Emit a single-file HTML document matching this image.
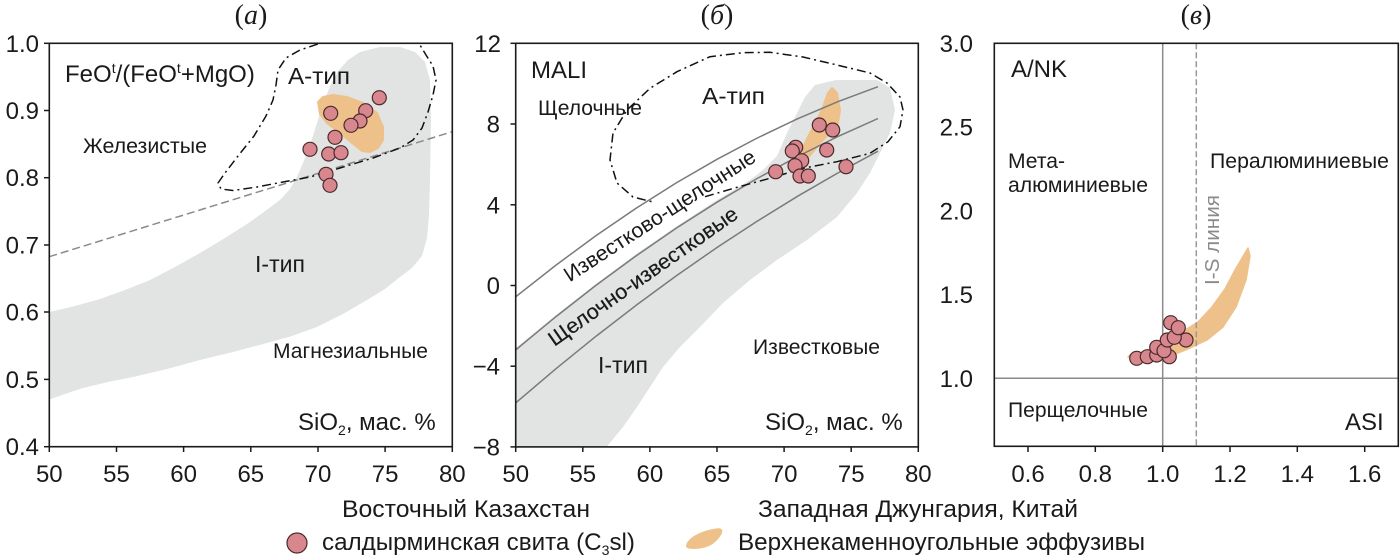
<!DOCTYPE html>
<html><head><meta charset="utf-8"><style>
html,body{margin:0;padding:0;background:#fff;}
svg{display:block;}
text{font-family:"Liberation Sans",Arial,sans-serif;fill:#1a1a1a;}
.t{font-family:"Liberation Serif",serif;font-size:28px;}
.tk{font-size:24px;}
</style></head><body>
<svg width="1400" height="558" viewBox="0 0 1400 558" xmlns="http://www.w3.org/2000/svg">
<defs>
<clipPath id="ca"><rect x="49.3" y="43.3" width="403" height="403.4"/></clipPath>
<clipPath id="cb"><rect x="515.7" y="43.3" width="402.6" height="403.6"/></clipPath>
<clipPath id="cc"><rect x="994.3" y="43.3" width="404" height="403"/></clipPath>
</defs>
<rect width="1400" height="558" fill="#fff"/>

<!-- titles -->
<text class="t" x="251" y="24" text-anchor="middle">(<tspan font-style="italic">а</tspan>)</text>
<text class="t" x="717" y="24" text-anchor="middle">(<tspan font-style="italic">б</tspan>)</text>
<text class="t" x="1196" y="24" text-anchor="middle">(<tspan font-style="italic">в</tspan>)</text>

<!-- ================= PANEL A ================= -->
<g clip-path="url(#ca)">
<polygon fill="#e2e3e3" points="45,313 75,306 100,299 125,290 150,280 175,267 200,253 225,238 250,222 268,209 281,199 290,189 297,177 303,163 308,150 313,136 317,123 321,110 326,96 332,82 339,70 348,60 360,52 380,47 400,47 415,52 425,62 430,80 431,120 430,180 429,215 427,238 422,256 412,268 400,277 385,289 367,300 343,314 317,327 292,336 267,343 233,352 200,360 167,369 133,377 108,382 83,388 65,394 45,401"/>
<polygon fill="#efc18a" stroke="#efc18a" stroke-width="2" stroke-linejoin="round" points="318,102 323,97 333,95 347,97 363,103 377,113 383,127 383,140 378,148 370,152 362,151 352,143 340,133 327,123 320,114"/>
<line x1="49.3" y1="256.7" x2="452.3" y2="131.7" stroke="#8a8a8a" stroke-width="1.5" stroke-dasharray="8,4"/>
<polyline fill="none" stroke="#111" stroke-width="1.5" stroke-dasharray="9,4,2,4" stroke-linejoin="round" points="335,36 318,44 300,50 286,58 278,70 276,85 273,100 266,116 254,136 238,156 225,173 218,183 221,189 233,190.5 257,187 283,182 310,177 340,168 373,158 400,148 413,140 422,128 428,112 433,95 436,80 433,66 426,55 420,45 416,36"/>
</g>
<g fill="#d9878e" stroke="#4a2b2b" stroke-width="1.2">
<circle cx="379.3" cy="97.7" r="7"/>
<circle cx="365.7" cy="110.7" r="7"/>
<circle cx="360" cy="121" r="7"/>
<circle cx="351" cy="125.3" r="7"/>
<circle cx="330.7" cy="113.3" r="7"/>
<circle cx="335" cy="137.3" r="7"/>
<circle cx="310" cy="149.3" r="7"/>
<circle cx="328.7" cy="154" r="7"/>
<circle cx="341" cy="152.7" r="7"/>
<circle cx="326" cy="174.3" r="7"/>
<circle cx="330" cy="185.3" r="7"/>
</g>
<rect x="49.3" y="43.3" width="403" height="403.4" fill="none" stroke="#1a1a1a" stroke-width="1.6"/>
<g stroke="#1a1a1a" stroke-width="1.5">
<line x1="49.3" y1="446.7" x2="49.3" y2="452"/><line x1="116.5" y1="446.7" x2="116.5" y2="452"/><line x1="183.6" y1="446.7" x2="183.6" y2="452"/><line x1="250.8" y1="446.7" x2="250.8" y2="452"/><line x1="318" y1="446.7" x2="318" y2="452"/><line x1="385.1" y1="446.7" x2="385.1" y2="452"/><line x1="452.3" y1="446.7" x2="452.3" y2="452"/>
<line x1="44" y1="43.3" x2="49.3" y2="43.3"/><line x1="44" y1="110.5" x2="49.3" y2="110.5"/><line x1="44" y1="177.7" x2="49.3" y2="177.7"/><line x1="44" y1="245" x2="49.3" y2="245"/><line x1="44" y1="312" x2="49.3" y2="312"/><line x1="44" y1="379.4" x2="49.3" y2="379.4"/><line x1="44" y1="446.7" x2="49.3" y2="446.7"/>
</g>
<g class="tk" text-anchor="middle" font-size="24">
<text x="49.3" y="482">50</text><text x="116.5" y="482">55</text><text x="183.6" y="482">60</text><text x="250.8" y="482">65</text><text x="318" y="482">70</text><text x="385.1" y="482">75</text><text x="452.3" y="482">80</text>
</g>
<g class="tk" text-anchor="end" font-size="24">
<text x="39" y="51.8">1.0</text><text x="39" y="119">0.9</text><text x="39" y="186.2">0.8</text><text x="39" y="253.5">0.7</text><text x="39" y="320.5">0.6</text><text x="39" y="387.9">0.5</text><text x="39" y="455.2">0.4</text>
</g>
<text x="65" y="82" font-size="24">FeO<tspan dy="-9" font-size="14">t</tspan><tspan dy="9">/(FeO</tspan><tspan dy="-9" font-size="14">t</tspan><tspan dy="9">+MgO)</tspan></text>
<text x="288" y="84" font-size="23" textLength="62" lengthAdjust="spacingAndGlyphs">А-тип</text>
<text x="83" y="153" font-size="21" textLength="124" lengthAdjust="spacingAndGlyphs">Железистые</text>
<text x="255" y="272" font-size="23" textLength="50" lengthAdjust="spacingAndGlyphs">I-тип</text>
<text x="273" y="358" font-size="21" textLength="155" lengthAdjust="spacingAndGlyphs">Магнезиальные</text>
<text x="298" y="430" font-size="24">SiO<tspan dy="5" font-size="14">2</tspan><tspan dy="-5">, мас. %</tspan></text>

<!-- ================= PANEL B ================= -->
<g clip-path="url(#cb)">
<polygon fill="#e2e3e3" points="512,351 556,315 596,284 636,254 677,226 717,200 750,180 763,170 777,156 787,133 797,113 805,97 815,85 836,80 877,80 890,88 895,110 890,133 880,153 870,173 857,193 837,217 807,240 777,260 750,280 723,303 700,327 680,347 663,367 650,387 637,407 623,427 604,450 512,450"/>
<polygon fill="#efc18a" stroke="#efc18a" stroke-width="2" stroke-linejoin="round" points="828,93 832,88 837,93 840,110 838,123 830,133 820,143 812,153 803,163 797,158 803,147 810,133 817,120 823,107"/>
<g fill="none" stroke="#7a7a7a" stroke-width="1.5">
<polyline points="515.7,296.8 556,265.1 596.2,235.5 636.5,208 676.7,182.6 717,159.3 757.3,138 797.5,118.8 837.8,101.7 878,86.7"/>
<polyline points="515.7,349.9 556,316.6 596.2,285.1 636.5,255.6 676.7,227.9 717,202.2 757.3,178.4 797.5,156.5 837.8,136.6 878,118.5"/>
<polyline points="515.7,402.9 556,368.7 596.2,336.1 636.5,305 676.7,275.5 717,247.5 757.3,221.1 797.5,196.3 837.8,173 878,151.2"/>
</g>
<polyline fill="none" stroke="#111" stroke-width="1.5" stroke-dasharray="9,4,2,4" stroke-linejoin="round" points="705,196.7 737,187.3 770,178.3 803,168.3 837,161.7 870,153.3 888,141.7 900,126.7 903,110 900,97 887,83 870,73 837,65 803,57 770,52.3 743,52.7 710,56.7 677,71.7 650,88.3 627,110 613,133 610,160 617,183 633,197 653,202"/>
</g>
<g fill="#d9878e" stroke="#4a2b2b" stroke-width="1.2">
<circle cx="819.3" cy="125" r="7"/>
<circle cx="832.7" cy="130" r="7"/>
<circle cx="826.7" cy="150" r="7"/>
<circle cx="795.7" cy="147.3" r="7"/>
<circle cx="792.3" cy="151" r="7"/>
<circle cx="801.7" cy="160.7" r="7"/>
<circle cx="795" cy="165.7" r="7"/>
<circle cx="800" cy="176" r="7"/>
<circle cx="808.3" cy="176" r="7"/>
<circle cx="846" cy="166.7" r="7"/>
<circle cx="775.7" cy="171.7" r="7"/>
</g>
<rect x="515.7" y="43.3" width="402.6" height="403.6" fill="none" stroke="#1a1a1a" stroke-width="1.6"/>
<g stroke="#1a1a1a" stroke-width="1.5">
<line x1="515.7" y1="446.9" x2="515.7" y2="452"/><line x1="582.8" y1="446.9" x2="582.8" y2="452"/><line x1="649.9" y1="446.9" x2="649.9" y2="452"/><line x1="717" y1="446.9" x2="717" y2="452"/><line x1="784.1" y1="446.9" x2="784.1" y2="452"/><line x1="851.2" y1="446.9" x2="851.2" y2="452"/><line x1="918.3" y1="446.9" x2="918.3" y2="452"/>
<line x1="510.5" y1="43.3" x2="515.7" y2="43.3"/><line x1="510.5" y1="124" x2="515.7" y2="124"/><line x1="510.5" y1="204.8" x2="515.7" y2="204.8"/><line x1="510.5" y1="285.5" x2="515.7" y2="285.5"/><line x1="510.5" y1="366.2" x2="515.7" y2="366.2"/><line x1="510.5" y1="446.9" x2="515.7" y2="446.9"/>
</g>
<g class="tk" text-anchor="middle" font-size="24">
<text x="515.7" y="482">50</text><text x="582.8" y="482">55</text><text x="649.9" y="482">60</text><text x="717" y="482">65</text><text x="784.1" y="482">70</text><text x="851.2" y="482">75</text><text x="918.3" y="482">80</text>
</g>
<g class="tk" text-anchor="end" font-size="24">
<text x="501" y="51.8">12</text><text x="500" y="132.5">8</text><text x="500" y="213.3">4</text><text x="500" y="294">0</text><text x="500" y="374.7">−4</text><text x="500" y="455.4">−8</text>
</g>
<text x="531" y="78" font-size="24">MALI</text>
<text x="538" y="115" font-size="21" textLength="104" lengthAdjust="spacingAndGlyphs">Щелочные</text>
<text x="702" y="104" font-size="23" textLength="63" lengthAdjust="spacingAndGlyphs">А-тип</text>
<text transform="translate(663.5,221.5) rotate(-33)" x="0" y="0" text-anchor="middle" font-size="21" textLength="224" lengthAdjust="spacingAndGlyphs">Известково-щелочные</text>
<text transform="translate(647,282) rotate(-35)" x="0" y="0" text-anchor="middle" font-size="21" textLength="226" lengthAdjust="spacingAndGlyphs" stroke="#1a1a1a" stroke-width="0.2">Щелочно-известковые</text>
<text x="753" y="354" font-size="21" textLength="127" lengthAdjust="spacingAndGlyphs">Известковые</text>
<text x="598" y="373" font-size="23" textLength="50" lengthAdjust="spacingAndGlyphs">I-тип</text>
<text x="765" y="430" font-size="24">SiO<tspan dy="5" font-size="14">2</tspan><tspan dy="-5">, мас. %</tspan></text>

<!-- ================= PANEL C ================= -->
<g clip-path="url(#cc)">
<polygon fill="#efc18a" stroke="#efc18a" stroke-width="1.5" stroke-linejoin="round" points="1128,357 1150,360 1173,355 1190,348 1207,340 1223,327 1236,307 1246,280 1250,256 1248,248 1245,253 1235,270 1225,289 1212,307 1198,322 1182,332 1168,339 1150,350 1130,355"/>
<line x1="1162.7" y1="43.3" x2="1162.7" y2="446.3" stroke="#8a8a8a" stroke-width="1.5"/>
<line x1="1196.3" y1="43.3" x2="1196.3" y2="446.3" stroke="#999" stroke-width="1.5" stroke-dasharray="6,3"/>
<line x1="994.3" y1="378.3" x2="1398.3" y2="378.3" stroke="#8a8a8a" stroke-width="1.5"/>
</g>
<g fill="#d9878e" stroke="#4a2b2b" stroke-width="1.2">
<circle cx="1136.7" cy="358.3" r="7"/>
<circle cx="1147.3" cy="356.7" r="7"/>
<circle cx="1156.7" cy="355" r="7"/>
<circle cx="1169.3" cy="356.7" r="7"/>
<circle cx="1156.7" cy="347.3" r="7"/>
<circle cx="1164" cy="350.7" r="7"/>
<circle cx="1167.3" cy="340" r="7"/>
<circle cx="1186" cy="340" r="7"/>
<circle cx="1174.3" cy="337.3" r="7"/>
<circle cx="1170.7" cy="322.7" r="7"/>
<circle cx="1178.3" cy="327.7" r="7"/>
</g>
<rect x="994.3" y="43.3" width="404" height="403" fill="none" stroke="#1a1a1a" stroke-width="1.6"/>
<g stroke="#1a1a1a" stroke-width="1.5">
<line x1="1028" y1="446.3" x2="1028" y2="452"/><line x1="1095.3" y1="446.3" x2="1095.3" y2="452"/><line x1="1162.7" y1="446.3" x2="1162.7" y2="452"/><line x1="1230" y1="446.3" x2="1230" y2="452"/><line x1="1297.3" y1="446.3" x2="1297.3" y2="452"/><line x1="1364.7" y1="446.3" x2="1364.7" y2="452"/>
</g>
<g class="tk" text-anchor="middle" font-size="24">
<text x="1028" y="482">0.6</text><text x="1095.3" y="482">0.8</text><text x="1162.7" y="482">1.0</text><text x="1230" y="482">1.2</text><text x="1297.3" y="482">1.4</text><text x="1364.7" y="482">1.6</text>
</g>
<g class="tk" text-anchor="end" font-size="24">
<text x="973" y="51.8">3.0</text><text x="973" y="135.5">2.5</text><text x="973" y="219.3">2.0</text><text x="973" y="303">1.5</text><text x="973" y="386.8">1.0</text>
</g>
<text x="1011" y="77" font-size="24">A/NK</text>
<text x="1008" y="168" font-size="21" textLength="57" lengthAdjust="spacingAndGlyphs">Мета-</text>
<text x="1008" y="192" font-size="21" textLength="140" lengthAdjust="spacingAndGlyphs">алюминиевые</text>
<text x="1210" y="168" font-size="21" textLength="179" lengthAdjust="spacingAndGlyphs">Пералюминиевые</text>
<text transform="translate(1219,240) rotate(-90)" x="0" y="0" text-anchor="middle" font-size="20" style="fill:#8a8a8a" textLength="90" lengthAdjust="spacingAndGlyphs">I-S линия</text>
<text x="1008" y="417" font-size="21" textLength="140" lengthAdjust="spacingAndGlyphs">Перщелочные</text>
<text x="1345" y="430" font-size="24">ASI</text>

<!-- ================= BOTTOM ================= -->
<text x="342" y="517" font-size="24" textLength="248" lengthAdjust="spacingAndGlyphs">Восточный Казахстан</text>
<text x="758" y="517" font-size="24" textLength="320" lengthAdjust="spacingAndGlyphs">Западная Джунгария, Китай</text>
<circle cx="297" cy="543" r="10" fill="#d9878e" stroke="#4a2b2b" stroke-width="1.2"/>
<text x="322" y="550" font-size="24" textLength="313" lengthAdjust="spacingAndGlyphs">салдырминская свита (C<tspan dy="5" font-size="14">3</tspan><tspan dy="-5">sl)</tspan></text>
<path d="M686,546 C687,538 700,531 716,528.5 C722,527.5 724,530 721,535 C716,543 710,547 700,548.5 C692,549.5 686,549 686,546 Z" fill="#efc18a"/>
<text x="738" y="550" font-size="24" textLength="407" lengthAdjust="spacingAndGlyphs">Верхнекаменноугольные эффузивы</text>
</svg>
</body></html>
